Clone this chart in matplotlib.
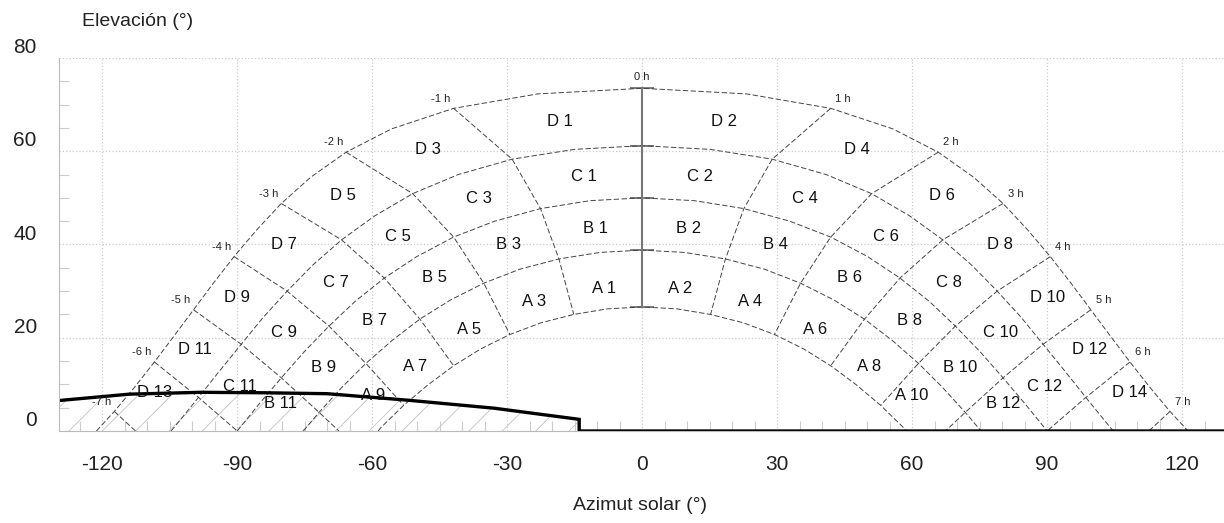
import matplotlib.pyplot as plt
import matplotlib.transforms as mtransforms

plt.rcParams['font.family'] = ['Liberation Sans', 'DejaVu Sans']
plt.rcParams['axes.unicode_minus'] = False
plt.rcParams['hatch.linewidth'] = 0.6

# sun path curves, afternoon half (azimuth from south, elevation in deg)
# the morning half is the mirror image
top_az = [0, 23.2, 41.9, 55.7, 65.8, 73.7, 80.2, 85.7, 90.7, 95.3, 99.7, 104.1, 108.4, 112.8, 117.3, 121.3]
top_el = [73.5, 72.3, 69.2, 64.8, 59.8, 54.4, 48.8, 43.1, 37.4, 31.7, 26.0, 20.3, 14.8, 9.4, 4.2, 0]
dc_az = [0, 15.1, 28.9, 40.9, 51.0, 59.5, 66.8, 73.2, 78.9, 84.2, 89.1, 93.9, 98.6, 103.4, 104.7]
dc_el = [61.2, 60.4, 58.3, 55.0, 50.9, 46.1, 41.0, 35.6, 30.0, 24.4, 18.6, 12.9, 7.2, 1.5, 0]
cb_az = [0, 11.6, 22.6, 32.8, 41.9, 50.1, 57.3, 63.8, 69.6, 75.1, 80.2, 85.2, 90.0]
cb_el = [50.0, 49.4, 47.7, 45.0, 41.6, 37.4, 32.8, 27.8, 22.5, 17.0, 11.4, 5.7, 0]
ba_az = [0, 9.4, 18.5, 27.2, 35.2, 42.6, 49.4, 55.6, 61.4, 66.7, 71.8, 75.3]
ba_el = [38.8, 38.3, 36.9, 34.7, 31.7, 28.1, 24.0, 19.4, 14.5, 9.4, 4.0, 0]
low_az = [0, 7.7, 15.2, 22.5, 29.4, 35.9, 41.9, 47.6, 53.0, 58.0, 58.7]
low_el = [26.6, 26.2, 25.0, 23.2, 20.7, 17.6, 14.0, 9.9, 5.5, 0.8, 0]
curves = [(top_az, top_el), (dc_az, dc_el), (cb_az, cb_el), (ba_az, ba_el), (low_az, low_el)]

# hour lines (afternoon), from the top curve down
hours = [1, 2, 3, 4, 5, 6, 7]
hour_az = [[41.9, 28.9, 22.6, 18.5, 15.2],
           [65.8, 51.0, 41.9, 35.2, 29.4],
           [80.2, 66.8, 57.3, 49.4, 41.9],
           [90.7, 78.9, 69.6, 61.4, 53.0],
           [99.7, 89.1, 80.2, 71.8, 67.4],
           [108.4, 98.6, 90.0],
           [117.3, 112.6]]
hour_el = [[69.2, 58.3, 47.7, 36.9, 25.0],
           [59.8, 50.9, 41.6, 31.7, 20.7],
           [48.8, 41.0, 32.8, 24.0, 14.0],
           [37.4, 30.0, 22.5, 14.5, 5.5],
           [26.0, 18.6, 11.4, 4.0, 0],
           [14.8, 7.2, 0],
           [4.2, 0]]
noon_el = [26.6, 38.8, 50.0, 61.2, 73.5]

# obstacle profile
prof_az = [-130, -114, -98, -84, -70, -52, -33, -14, -14, 130]
prof_el = [6.5, 7.9, 8.3, 8.2, 8.0, 6.6, 4.9, 2.5, 0, 0]

# zone labels
zones = {
    'D 1': (-18.2, 66.4), 'D 2': (18.1, 66.4), 'D 3': (-47.5, 60.3), 'D 4': (47.7, 60.3),
    'D 5': (-66.6, 50.6), 'D 6': (66.6, 50.6), 'D 7': (-79.6, 39.9), 'D 8': (79.6, 39.9),
    'D 9': (-90.1, 28.6), 'D 10': (90.1, 28.6), 'D 11': (-99.4, 17.4), 'D 12': (99.4, 17.4),
    'D 13': (-108.4, 8.2), 'D 14': (108.4, 8.2),
    'C 1': (-12.9, 54.6), 'C 2': (12.9, 54.6), 'C 3': (-36.2, 49.9), 'C 4': (36.2, 49.9),
    'C 5': (-54.2, 41.8), 'C 6': (54.2, 41.8), 'C 7': (-68.1, 31.8), 'C 8': (68.1, 31.8),
    'C 9': (-79.6, 21.1), 'C 10': (79.6, 21.1), 'C 11': (-89.4, 9.6), 'C 12': (89.4, 9.6),
    'B 1': (-10.3, 43.5), 'B 2': (10.3, 43.5), 'B 3': (-29.6, 39.9), 'B 4': (29.6, 39.9),
    'B 5': (-46.1, 32.9), 'B 6': (46.1, 32.9), 'B 7': (-59.4, 23.8), 'B 8': (59.4, 23.8),
    'B 9': (-70.7, 13.6), 'B 10': (70.7, 13.6), 'B 11': (-80.3, 5.9), 'B 12': (80.3, 5.9),
    'A 1': (-8.4, 30.6), 'A 2': (8.4, 30.6), 'A 3': (-24.0, 27.7), 'A 4': (24.0, 27.7),
    'A 5': (-38.4, 21.7), 'A 6': (38.4, 21.7), 'A 7': (-50.5, 13.8), 'A 8': (50.5, 13.8),
    'A 9': (-59.9, 7.6), 'A 10': (59.9, 7.6),
}

xticks = [-120, -90, -60, -30, 0, 30, 60, 90, 120]
yticks = [0, 20, 40, 60, 80]

fig = plt.figure(figsize=(12.24, 5.23), dpi=100)
ax = fig.add_axes([59 / 1224, 92 / 523, 1165 / 1224, 373 / 523])
ax.set_xlim(-129.6, 129.3)
ax.set_ylim(0, 80)

dash = dict(color='#444444', lw=0.7, ls=(0, (5.5, 2.5)))
for az, el in curves:
    full_az = [-a for a in az[::-1]] + az[1:]
    full_el = el[::-1] + el[1:]
    ax.plot(full_az, full_el, **dash)

for h, az, el in zip(hours, hour_az, hour_el):
    ax.plot(az, el, **dash)
    ax.plot([-a for a in az], el, **dash)
    ax.annotate(f'{h} h', (az[0], el[0]), xytext=(9, 7), textcoords='offset points',
                ha='center', va='center', fontsize=8, color='#222')
    ax.annotate(f'-{h} h', (-az[0], el[0]), xytext=(-9, 7), textcoords='offset points',
                ha='center', va='center', fontsize=8, color='#222')

ax.plot([0] * len(noon_el), noon_el, color='#777', lw=1.5)
ax.scatter([0] * len(noon_el), noon_el, marker='_', s=300, color='#666', lw=1.2)
ax.annotate('0 h', (0, noon_el[-1]), xytext=(0, 8), textcoords='offset points',
            ha='center', va='center', fontsize=8, color='#222')

for name, (x, y) in zones.items():
    ax.text(x, y, name, ha='center', va='center', fontsize=12, color='#111')

ax.fill_between(prof_az[:8], 0, prof_el[:8], facecolor='none', edgecolor='#c4c4c4',
                hatch='/', lw=0)
ax.plot(prof_az, prof_el, color='black', lw=2.4, solid_joinstyle='miter')

ax.set_xticks(xticks)
ax.set_yticks(yticks)
ax.set_xticks(range(-125, 130, 5), minor=True)
ax.set_yticks(range(0, 80, 5), minor=True)
ax.grid(True, which='major', color='#cccccc', ls=':', lw=0.9)
ax.tick_params(which='major', length=0, labelsize=15, colors='#222', pad=16)
ax.tick_params(which='minor', direction='in', length=7, color='#cccccc', width=0.8)
ax.tick_params(axis='x', which='major', pad=17)
for side in ['top', 'right']:
    ax.spines[side].set_visible(False)
for side in ['left', 'bottom']:
    ax.spines[side].set_color('#bbbbbb')
    ax.spines[side].set_linewidth(0.8)

offset = mtransforms.ScaledTranslation(0, 9 / 72, fig.dpi_scale_trans)
for lbl in ax.get_yticklabels():
    lbl.set_transform(lbl.get_transform() + offset)

fig.text(82 / 1224, 1 - 22 / 523, 'Elevación (°)', ha='left', va='center', fontsize=14, color='#222')
fig.text(640 / 1224, 1 - 505 / 523, 'Azimut solar (°)', ha='center', va='center', fontsize=14, color='#222')

fig.savefig('out.png', dpi=100)
